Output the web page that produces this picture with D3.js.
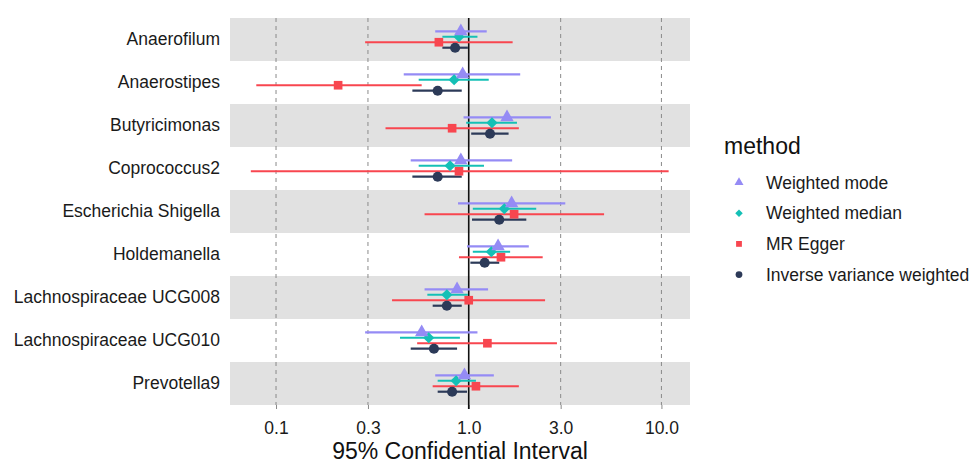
<!DOCTYPE html>
<html>
<head>
<meta charset="utf-8">
<script src="https://cdn.jsdelivr.net/npm/d3@7"></script>
<style>
  body { margin: 0; background: #fff; }
  svg { font-family: "Liberation Sans", Arial, sans-serif; }
</style>
</head>
<body>
<svg width="971" height="460"></svg>
<script>
// categories, top to bottom
var taxa = ["Anaerofilum", "Anaerostipes", "Butyricimonas", "Coprococcus2",
  "Escherichia Shigella", "Holdemanella", "Lachnospiraceae UCG008",
  "Lachnospiraceae UCG010", "Prevotella9"];

// methods, top to bottom within a row
var methods = ["Weighted mode", "Weighted median", "MR Egger", "Inverse variance weighted"];
var colors = ["#958bf5", "#14c0b6", "#f8464f", "#2c3a58"];

// odds ratio estimates, lower and upper limits, one array per method (same order as taxa)
var modeOR   = [0.91, 0.93, 1.58, 0.91, 1.67, 1.42, 0.87, 0.57, 0.95];
var modeLo   = [0.67, 0.46, 0.94, 0.50, 0.88, 0.98, 0.59, 0.29, 0.67];
var modeHi   = [1.24, 1.85, 2.67, 1.68, 3.17, 2.05, 1.26, 1.11, 1.35];

var medianOR = [0.89, 0.84, 1.32, 0.80, 1.53, 1.31, 0.77, 0.62, 0.86];
var medianLo = [0.73, 0.55, 0.97, 0.55, 1.05, 1.05, 0.61, 0.44, 0.69];
var medianHi = [1.11, 1.27, 1.78, 1.20, 2.24, 1.64, 0.99, 0.90, 1.09];

var eggerOR  = [0.70, 0.21, 0.82, 0.89, 1.72, 1.47, 1.00, 1.25, 1.09];
var eggerLo  = [0.29, 0.079, 0.37, 0.074, 0.59, 0.89, 0.40, 0.54, 0.65];
var eggerHi  = [1.69, 0.57, 1.82, 10.9, 5.04, 2.42, 2.49, 2.87, 1.82];

var ivwOR    = [0.85, 0.69, 1.29, 0.69, 1.44, 1.21, 0.77, 0.66, 0.82];
var ivwLo    = [0.73, 0.51, 1.03, 0.51, 1.04, 1.02, 0.65, 0.50, 0.69];
var ivwHi    = [0.99, 0.92, 1.61, 0.92, 1.99, 1.44, 0.92, 0.87, 0.98];

var tickVals = [0.1, 0.3, 1, 3, 10];
var tickLabels = ["0.1", "0.3", "1.0", "3.0", "10.0"];

var est = [modeOR, medianOR, eggerOR, ivwOR],
    low = [modeLo, medianLo, eggerLo, ivwLo],
    high = [modeHi, medianHi, eggerHi, ivwHi];

var rows = [];
methods.forEach(function(m, j) {
  taxa.forEach(function(t, i) {
    rows.push({taxon: t, method: m, j: j, or: est[j][i], lo: low[j][i], hi: high[j][i]});
  });
});

var svg = d3.select("svg");
var panelL = 230, panelR = 690, panelT = 18, panelB = 405;

var x = d3.scaleLog().domain([0.0577, 14.07]).range([panelL, panelR]);
var y = d3.scaleBand().domain(taxa).range([panelT, panelB]);
var dodge = d3.scalePoint().domain(methods).range([-8.2, 8.2]);
var color = d3.scaleOrdinal().domain(methods).range(colors);

// stripes
svg.append("g").selectAll("rect")
  .data(taxa.filter(function(d, i) { return i % 2 == 0; }))
  .enter().append("rect")
  .attr("x", panelL).attr("width", panelR - panelL)
  .attr("y", function(d) { return y(d); })
  .attr("height", y.bandwidth())
  .attr("fill", "#e1e1e1");

// dashed grid at ticks
svg.append("g").selectAll("line")
  .data(tickVals.filter(function(d) { return d != 1; }))
  .enter().append("line")
  .attr("x1", function(d) { return x(d); }).attr("x2", function(d) { return x(d); })
  .attr("y1", panelT).attr("y2", panelB)
  .attr("stroke", "#8a8a8a").attr("stroke-width", 1)
  .attr("stroke-dasharray", "4,4");

// x axis
var xAxis = svg.append("g")
  .attr("transform", "translate(0," + panelB + ")")
  .call(d3.axisBottom(x).tickValues(tickVals)
    .tickFormat(function(d, i) { return tickLabels[i]; })
    .tickSize(4).tickPadding(13));
xAxis.select(".domain").remove();
xAxis.attr("font-size", null).attr("font-family", null);
xAxis.selectAll("line").attr("stroke", "#8a8a8a");
xAxis.selectAll("text").style("font-size", "17.5px").attr("fill", "#1a1a1a");

svg.append("line")
  .attr("x1", x(1)).attr("x2", x(1))
  .attr("y1", panelT).attr("y2", panelB + 4)
  .attr("stroke", "#111").attr("stroke-width", 1.6);

svg.append("text")
  .attr("x", (panelL + panelR) / 2).attr("y", 459)
  .attr("text-anchor", "middle").style("font-size", "23px").attr("fill", "#111")
  .text("95% Confidential Interval");

// y axis labels
var yAxis = svg.append("g")
  .attr("transform", "translate(" + panelL + ",0)")
  .call(d3.axisLeft(y).tickSize(0).tickPadding(10));
yAxis.select(".domain").remove();
yAxis.attr("font-size", null).attr("font-family", null);
yAxis.selectAll("text").style("font-size", "17.5px").attr("fill", "#1a1a1a");

function yPos(d) { return y(d.taxon) + y.bandwidth() / 2 + dodge(d.method); }

var symTypes = [d3.symbolTriangle, d3.symbolDiamond2, d3.symbolSquare, d3.symbolCircle];
var symSizes = [78, 80, 75, 80];

// draw IVW first, weighted mode last
var drawOrder = rows.slice().sort(function(a, b) { return b.j - a.j; });

var g = svg.append("g");
g.selectAll("line.ci")
  .data(drawOrder).enter()
  .append("line").attr("class", "ci")
  .attr("x1", function(d) { return x(d.lo); })
  .attr("x2", function(d) { return x(d.hi); })
  .attr("y1", yPos).attr("y2", yPos)
  .attr("stroke", function(d) { return color(d.method); })
  .attr("stroke-width", 2.2);

g.selectAll("path.pt")
  .data(drawOrder).enter()
  .append("path").attr("class", "pt")
  .attr("transform", function(d) { return "translate(" + x(d.or) + "," + yPos(d) + ")"; })
  .attr("d", function(d) { return d3.symbol().type(symTypes[d.j]).size(symSizes[d.j])(); })
  .attr("fill", function(d) { return color(d.method); });

// legend
var lg = svg.append("g");
lg.append("text").attr("x", 724).attr("y", 154)
  .style("font-size", "23px").attr("fill", "#111").text("method");

var items = lg.selectAll("g.item").data(methods).enter()
  .append("g").attr("class", "item")
  .attr("transform", function(d, i) { return "translate(739," + (182.5 + i * 30.7) + ")"; });
items.append("path")
  .attr("d", function(d, i) { return d3.symbol().type(symTypes[i]).size(symSizes[i] * 0.45)(); })
  .attr("fill", function(d) { return color(d); });
items.append("text").attr("x", 27).attr("y", 6)
  .style("font-size", "17.5px").attr("fill", "#1a1a1a")
  .text(function(d) { return d; });
</script>
</body>
</html>
